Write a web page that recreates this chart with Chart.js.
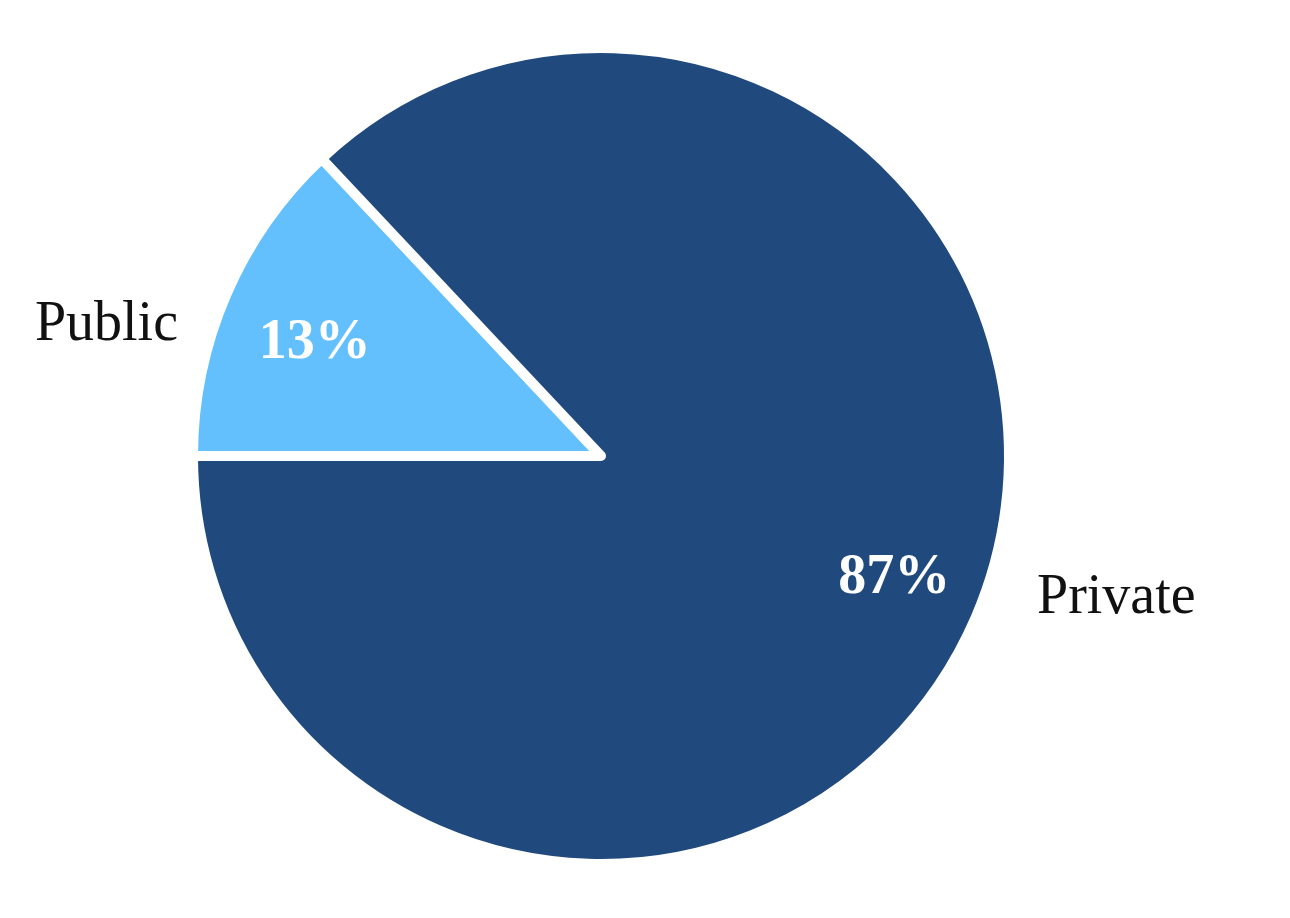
<!DOCTYPE html>
<html>
<head>
<meta charset="utf-8">
<script src="https://cdn.jsdelivr.net/npm/chart.js@4"></script>
<style>
  html, body { margin: 0; padding: 0; background: #fff; }
  #wrap { width: 1290px; height: 918px; }
</style>
</head>
<body>
<div id="wrap"><canvas id="pieChart"></canvas></div>
<script>
// Chart data
const sectors = ['Public', 'Private'];
const shares = [13, 87];
const sliceColors = ['#63C0FC', '#204A7D'];

// draws the percentages inside and the names outside the pie
const labelPlugin = {
  id: 'pieLabels',
  afterDraw(chart) {
    const ctx = chart.ctx;
    const arcs = chart.getDatasetMeta(0).data;
    const total = shares.reduce((a, b) => a + b, 0);
    ctx.save();
    arcs.forEach((arc, i) => {
      const mid = (arc.startAngle + arc.endAngle) / 2;
      const r = arc.outerRadius * 0.77;
      const left = Math.cos(mid) < 0;
      ctx.fillStyle = '#ffffff';
      ctx.font = 'bold 56px "Liberation Serif", "Times New Roman", serif';
      ctx.textAlign = 'center';
      ctx.textBaseline = 'middle';
      const pct = Math.round(shares[i] / total * 100) + '%';
      const px = arc.x + Math.cos(mid) * r + (left ? 2 : 5);
      const py = arc.y + Math.sin(mid) * r + (left ? 12 : -2);
      ctx.fillText(pct, px, py);

      ctx.fillStyle = '#111111';
      ctx.font = '56px "Liberation Serif", "Times New Roman", serif';
      ctx.textBaseline = 'alphabetic';
      if (left) {
        ctx.textAlign = 'right';
        ctx.fillText(sectors[i], arc.x - arc.outerRadius - 15, arc.y - 116);
      } else {
        ctx.textAlign = 'left';
        ctx.fillText(sectors[i], arc.x + arc.outerRadius + 28, arc.y + 157);
      }
    });
    ctx.restore();
  }
};

const ctx = document.getElementById('pieChart').getContext('2d');
new Chart(ctx, {
  type: 'pie',
  data: {
    labels: sectors,
    datasets: [{
      data: shares,
      backgroundColor: sliceColors,
      borderColor: '#ffffff',
      borderWidth: 10,
      borderJoinStyle: 'round'
    }]
  },
  options: {
    responsive: true,
    maintainAspectRatio: false,
    animation: false,
    rotation: 270,
    layout: {
      padding: { top: 43, bottom: 49, left: 0, right: 88 }
    },
    plugins: {
      legend: { display: false },
      tooltip: { enabled: false }
    }
  },
  plugins: [labelPlugin]
});
</script>
</body>
</html>
